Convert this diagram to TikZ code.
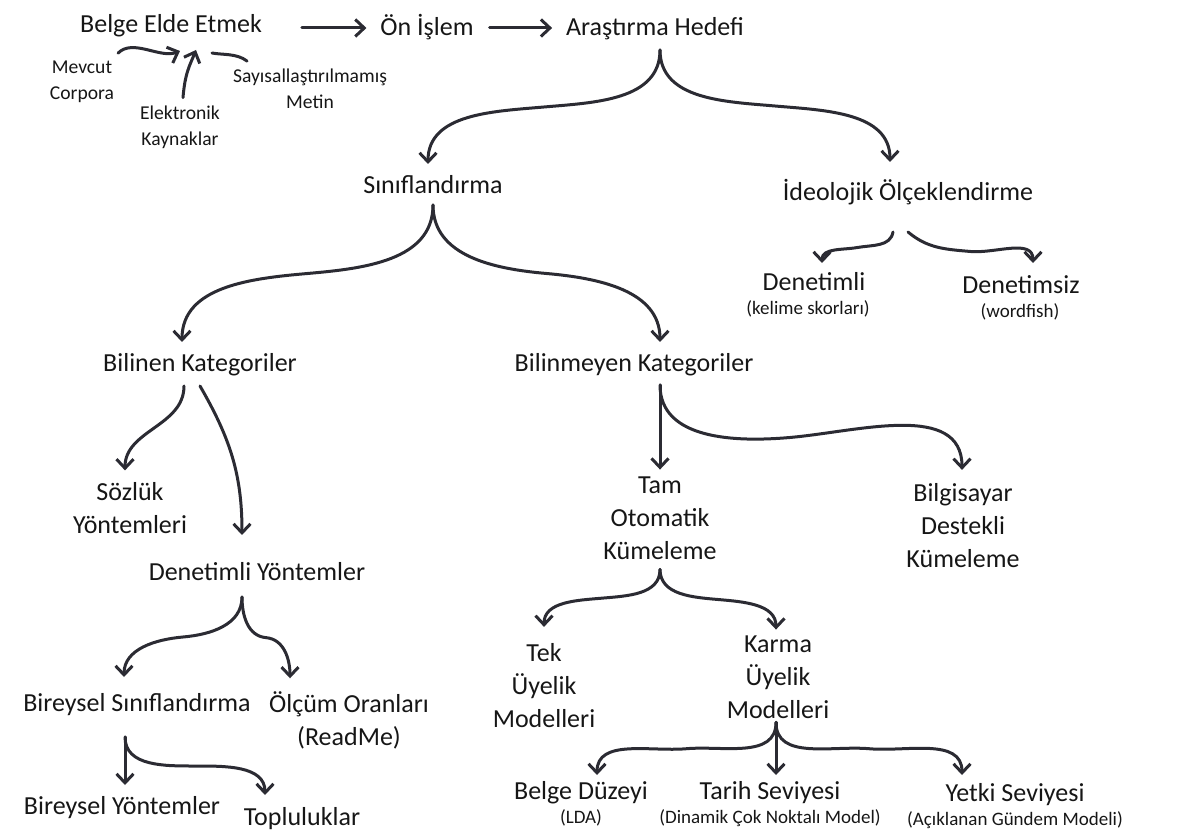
\documentclass[tikz,border=0pt]{standalone}
\usepackage{fontspec}
\setmainfont{Carlito}
\usetikzlibrary{arrows.meta,calc}
\definecolor{ink}{HTML}{2B2B33}
\definecolor{txt}{HTML}{161616}
\begin{document}
\begin{tikzpicture}[x=0.5pt,y=-0.5pt,
  base/.style={text=txt, align=center, inner sep=0pt, outer sep=4pt},
  lbl/.style={base, font=\fontsize{13}{16.5}\selectfont, text height=11pt, text depth=3pt},
  mlbl/.style={base, font=\fontsize{13}{16.5}\selectfont},
  sml/.style={base, font=\fontsize{9.8}{13}\selectfont},
  sub/.style={base, font=\fontsize{9.5}{11}\selectfont, text height=7pt, text depth=2pt},
  con/.style={draw=ink, line width=1.5pt, line cap=round, -{Straight Barb[length=4.5pt,width=8.5pt]}},
  plain/.style={draw=ink, line width=1.5pt, line cap=round}]
\useasboundingbox (0,0) rectangle (1192,838);

% nodes
\node[lbl]  (bee)  at (171,25)  {Belge Elde Etmek};
\node[lbl]  (onis) at (427,28)  {Ön İşlem};
\node[lbl]  (hed)  at (655,28)  {Araştırma Hedefi};
\node[sml]  (mev)  at (82,82)   {Mevcut\\Corpora};
\node[sml]  (ele)  at (180,127) {Elektronik\\Kaynaklar};
\node[sml]  (say)  at (310,89)  {Sayısallaştırılmamış\\Metin};
\node[lbl]  (sin)  at (433,186) {Sınıflandırma};
\node[lbl]  (ide)  at (908,193) {İdeolojik Ölçeklendirme};
\node[lbl]  (dnt)  at (814,283) {Denetimli};
\node[sub]  (dnts) at (808,310) {(kelime skorları)};
\node[lbl]  (dns)  at (1021,286) {Denetimsiz};
\node[sub]  (dnss) at (1020,313) {(wordfish)};
\node[lbl]  (bk)   at (200,364) {Bilinen Kategoriler};
\node[lbl]  (bmk)  at (634,364) {Bilinmeyen Kategoriler};
\node[mlbl] (soz)  at (130,508) {Sözlük\\Yöntemleri};
\node[lbl]  (dy)   at (257,573) {Denetimli Yöntemler};
\node[lbl]  (bs)   at (137,703) {Bireysel Sınıflandırma};
\node[mlbl] (olc)  at (349,720) {Ölçüm Oranları\\(ReadMe)};
\node[lbl]  (by)   at (122,806) {Bireysel Yöntemler};
\node[lbl]  (top)  at (302,817) {Topluluklar};
\node[mlbl] (tam)  at (660,518) {Tam\\Otomatik\\Kümeleme};
\node[mlbl] (bdk)  at (963,526) {Bilgisayar\\Destekli\\Kümeleme};
\node[mlbl] (tek)  at (544,686) {Tek\\Üyelik\\Modelleri};
\node[mlbl] (kar)  at (778,677) {Karma\\Üyelik\\Modelleri};
\node[lbl]  (bd)   at (581,791) {Belge Düzeyi};
\node[sub]  (bds)  at (581,818) {(LDA)};
\node[lbl]  (ts)   at (770,791) {Tarih Seviyesi};
\node[sub]  (tss)  at (770,818) {(Dinamik Çok Noktalı Model)};
\node[lbl]  (ys)   at (1015,793) {Yetki Seviyesi};
\node[sub]  (yss)  at (1015,820) {(Açıklanan Gündem Modeli)};

% top row
\draw[con, shorten <=16pt, shorten >=3pt] (bee.east |- onis.west) -- (onis.west);
\draw[con, shorten <=4pt, shorten >=3pt] (onis.east) -- (hed.west);
\draw[con] ($(mev.north east)+(-4,0)$) .. controls +(15,-15) and +(-20,8) .. ($(bee.south)+(9,4)$);
\draw[con] ($(ele.north)+(3,0)$) .. controls +(2,-25) and +(-6,15) .. ($(bee.south)+(25,3)$);
\draw[plain] ($(say.north west)+(22,0)$) .. controls +(-10,-8) and +(10,2) .. ($(bee.south)+(41,6)$);

% Arastirma Hedefi brace
\coordinate (hs) at ($(hed.south)+(5,0)$);
\coordinate (hl) at ($(sin.north)+(-5,0)$);
\coordinate (hr) at ($(ide.north)+(-18,-9)$);
\draw[con] (hs) to[out=-90,in=5] ($(hs)!0.5!(hl)$) to[out=-175,in=90] (hl);
\draw[con] (hs) to[out=-90,in=175] ($(hs)!0.5!(hr)$) to[out=-5,in=90] (hr);

% Ideolojik
\coordinate (is1) at ($(ide.south)+(-15,17)$);
\coordinate (ie1) at ($(dnt.north)+(8,2)$);
\coordinate (is2) at ($(ide.south)+(0,17)$);
\coordinate (ie2) at ($(dns.north)+(12,-1)$);
\draw[con] (is1) to[out=-100,in=10] ($(is1)!0.5!(ie1)$) to[out=-170,in=90] (ie1);
\draw[con] (is2) to[out=-40,in=175] ($(is2)!0.5!(ie2)+(0,4)$) to[out=-5,in=90] (ie2);

% Siniflandirma brace
\coordinate (ss) at ($(sin.south)+(0,-3)$);
\coordinate (sl) at ($(bk.north)+(-18,0)$);
\coordinate (sr) at ($(bmk.north)+(26,0)$);
\draw[con] (ss) to[out=-90,in=5] ($(ss)!0.5!(sl)$) to[out=-175,in=90] (sl);
\draw[con] (ss) to[out=-90,in=175] ($(ss)!0.5!(sr)$) to[out=-5,in=90] (sr);

% Bilinen Kategoriler
\draw[con] ($(bk.south)+(-16,0)$) to[out=-90,in=90] ($(soz.north)+(-5,-4)$);
\draw[con] (bk.south) to[out=-60,in=90] ($(dy.north)+(-15,-16)$);

% Denetimli Yontemler brace
\coordinate (ds) at ($(dy.south)+(-15,2)$);
\coordinate (dl) at ($(bs.north)+(-13,-4)$);
\coordinate (dr) at ($(olc.north)+(-59,-5)$);
\draw[con] (ds) to[out=-90,in=5] ($(ds)!0.5!(dl)$) to[out=-175,in=90] (dl);
\draw[con] (ds) to[out=-90,in=175] ($(ds)!0.5!(dr)$) to[out=-5,in=90] (dr);

% Bireysel Siniflandirma
\coordinate (bss) at ($(bs.south)+(-12,12)$);
\coordinate (bse) at ($(top.north)+(-37,0)$);
\draw[con] (bss) -- ($(by.north)+(3,1)$);
\draw[con] (bss) to[out=-90,in=180] ($(bss)!0.5!(bse)$) to[out=0,in=90] (bse);

% Bilinmeyen Kategoriler
\coordinate (ms) at ($(bmk.south)+(26,-1)$);
\coordinate (me) at ($(bdk.north)+(-1,-6)$);
\draw[con] (ms) -- ($(tam.north)+(0,1)$);
\draw[con] (ms) to[out=-90,in=185] ($(ms)!0.43!(me)+(0,16)$) to[out=5,in=90] (me);

% Tam Otomatik brace
\coordinate (ts0) at ($(tam.south)+(0,2)$);
\coordinate (tl) at ($(tek.north)+(0,-9)$);
\coordinate (tr) at ($(kar.north)+(-2,2)$);
\draw[con] (ts0) to[out=-90,in=5] ($(ts0)!0.5!(tl)$) to[out=-175,in=90] (tl);
\draw[con] (ts0) to[out=-90,in=175] ($(ts0)!0.5!(tr)$) to[out=-5,in=90] (tr);

% Karma brace
\coordinate (ks) at ($(kar.south)+(-2,-4)$);
\coordinate (kl) at ($(bd.north)+(16,6)$);
\coordinate (kr) at ($(ys.north)+(-53,4)$);
\draw[con] (ks) to[out=-90,in=5] ($(ks)!0.5!(kl)$) to[out=-175,in=90] (kl);
\draw[con] (ks) -- ($(ts.north)+(6,6)$);
\draw[con] (ks) to[out=-90,in=175] ($(ks)!0.5!(kr)$) to[out=-5,in=90] (kr);
\end{tikzpicture}
\end{document}
